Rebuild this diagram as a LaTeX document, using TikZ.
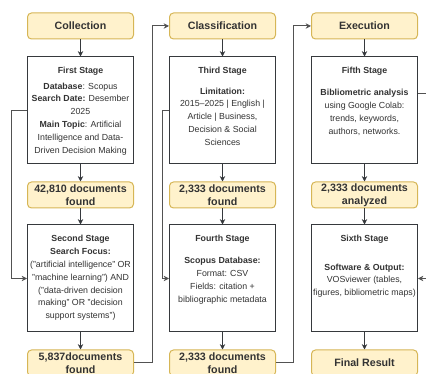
\documentclass[tikz,border=0pt]{standalone}
\usepackage{fontspec}
\setmainfont{Liberation Sans}
\usetikzlibrary{arrows.meta}
\definecolor{Ink}{HTML}{333333}
\definecolor{Frame}{HTML}{36393D}
\definecolor{Sand}{HTML}{FFF2CC}
\definecolor{Gold}{HTML}{D6B656}
\tikzset{
    phasebox/.style={rectangle, rounded corners=3pt, draw=Gold, fill=Sand, line width=0.75pt, minimum width=79.5pt, minimum height=19.5pt, inner sep=0pt, align=center, text=Ink, font=\bfseries\fontsize{8}{9.75}\selectfont},
    stagebox/.style={rectangle, draw=Frame, fill=white, line width=0.75pt, minimum width=79.5pt, minimum height=80.25pt, inner sep=0pt},
    stagetext/.style={anchor=north, inner sep=0pt, align=center, text=Ink, font=\fontsize{6.6}{9.6}\selectfont},
    flow/.style={-{Stealth[length=4pt, width=4pt]}, line width=0.75pt, color=Frame},
    link/.style={-{Stealth[length=4pt, width=4pt]}, line width=0.75pt, color=Ink!85},
}
\begin{document}
\begin{tikzpicture}[x=0.75pt, y=-0.75pt]
    \useasboundingbox (0,0) rectangle (426,374);
    \clip (0,0) rectangle (426,374);

    % Intestazioni delle colonne
    \node[phasebox] (collect) at (80.5,26) {Collection};
    \node[phasebox] (classify) at (222.5,26) {Classification};
    \node[phasebox] (execute) at (364.5,26) {Execution};

    % Riquadri delle fasi
    \node[stagebox] (stage1) at (80.5,110.5) {};
    \node[stagebox] (stage2) at (80.5,278.5) {};
    \node[stagebox] (stage3) at (222.5,110.5) {};
    \node[stagebox] (stage4) at (222.5,278.5) {};
    \node[stagebox] (stage5) at (364.5,110.5) {};
    \node[stagebox] (stage6) at (364.5,278.5) {};

    \node[stagetext] (text1) at ([yshift=-8pt]stage1.north) {\textbf{First Stage}\\[1.9pt]
        \textbf{Database}: Scopus\\ \textbf{Search Date:} Desember\\ 2025\\
        \textbf{Main Topic}: Artificial\\ Intelligence and Data-\\ Driven Decision Making};
    \node[stagetext] (text2) at ([yshift=-8pt]stage2.north) {\textbf{Second Stage}\\
        \textbf{Search Focus:}\\ ("artificial intelligence" OR\\ "machine learning") AND\\
        ("data-driven decision\\ making" OR "decision\\ support systems")};
    \node[stagetext] (text3) at ([yshift=-8pt]stage3.north) {\textbf{Third Stage}\\[5.6pt]
        \textbf{Limitation:}\\ 2015--2025 | English |\\ Article | Business,\\ Decision \& Social\\ Sciences};
    \node[stagetext] (text4) at ([yshift=-8pt]stage4.north) {\textbf{Fourth Stage}\\[7pt]
        \textbf{Scopus Database:}\\ Format: CSV\\ Fields: citation +\\ bibliographic metadata};
    \node[stagetext] (text5) at ([yshift=-8pt]stage5.north) {\textbf{Fifth Stage}\\[7pt]
        \textbf{Bibliometric analysis}\\ using Google Colab:\\ trends, keywords,\\ authors, networks.};
    \node[stagetext] (text6) at ([yshift=-8pt]stage6.north) {\textbf{Sixth Stage}\\[11.6pt]
        \textbf{Software \& Output:}\\ VOSviewer (tables,\\ figures, bibliometric maps)};

    % Conteggi dei documenti
    \node[phasebox] (found1) at (80.5,195) {42,810 documents\\found};
    \node[phasebox] (found2) at (80.5,363) {5,837documents\\found};
    \node[phasebox] (found3) at (222.5,195) {2,333 documents\\found};
    \node[phasebox] (found4) at (222.5,363) {2,333 documents\\found};
    \node[phasebox] (found5) at (364.5,195) {2,333 documents\\analyzed};
    \node[phasebox] (result) at (364.5,363) {Final Result};

    % Frecce verticali
    \draw[flow] (collect) -- (stage1);
    \draw[flow] (stage1) -- (found1);
    \draw[flow] (found1) -- (stage2);
    \draw[flow] (stage2) -- (found2);
    \draw[flow] (classify) -- (stage3);
    \draw[flow] (stage3) -- (found3);
    \draw[flow] (found3) -- (stage4);
    \draw[flow] (stage4) -- (found4);
    \draw[flow] (execute) -- (stage5);
    \draw[flow] (stage5) -- (found5);
    \draw[flow] (found5) -- (stage6);
    \draw[flow] (stage6) -- (result);

    % Collegamenti laterali
    \draw[link] (stage1.west) -- ++(-16,0) |- (stage2.west);
    \draw[link] (found2.east) -- ++(18.5,0) |- (classify.west);
    \draw[link] (stage3.west) -- ++(-7,0) |- (stage4.west);
    \draw[link] (found4.east) -- ++(17,0) |- (execute.west);
    \draw[link] ([yshift=12.4pt]stage5.east) -- ++(8,0) |- (stage6.east);
\end{tikzpicture}
\end{document}
